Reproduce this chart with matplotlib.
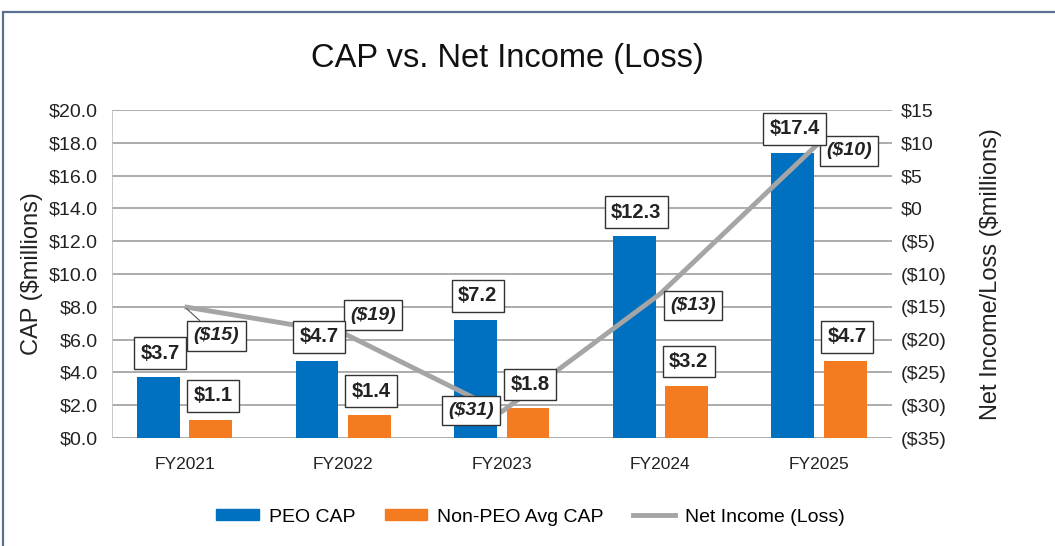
import matplotlib.pyplot as plt
from matplotlib.patches import Rectangle, Patch
from matplotlib.lines import Line2D
import numpy as np

years = ["FY2021", "FY2022", "FY2023", "FY2024", "FY2025"]
peo_cap = [3.7, 4.7, 7.2, 12.3, 17.4]
non_peo_cap = [1.1, 1.4, 1.8, 3.2, 4.7]
net_income = [-15, -19, -31, -13, 10]

cap_ticks = np.arange(0, 20.1, 2)
ni_ticks = np.arange(-35, 15.1, 5)

blue = "#0070C0"
orange = "#F47B20"
gray = "#A5A5A5"
narrow = ["Liberation Sans Narrow", "Liberation Sans", "DejaVu Sans"]

plt.rcParams["font.family"] = ["Liberation Sans", "DejaVu Sans"]

fig = plt.figure(figsize=(10.55, 5.46), dpi=100)
ax = fig.add_axes([0.1062, 0.1978, 0.7393, 0.6007])
ax2 = ax.twinx()

x = np.arange(len(years))
w = 0.27
ax.bar(x - 0.165, peo_cap, w, color=blue, zorder=2)
ax.bar(x + 0.165, non_peo_cap, w, color=orange, zorder=2)
ax2.plot(x, net_income, color=gray, lw=3.5, solid_capstyle="butt", zorder=3)

ax.set_xlim(-0.457, 4.46)
ax.set_ylim(0, 20)
ax2.set_ylim(-35, 15)
ax.set_yticks(cap_ticks)
ax.set_yticklabels([f"${v:.1f}" for v in cap_ticks])
ax2.set_yticks(ni_ticks)
ax2.set_yticklabels([f"${v:.0f}" if v >= 0 else f"(${-v:.0f})" for v in ni_ticks])
ax.set_xticks(x)
ax.set_xticklabels(years)

ax.grid(axis="y", color="#A6A6A6", lw=1.3, zorder=0)
ax.set_axisbelow(True)
for a in (ax, ax2):
    for s in ("top", "right", "bottom", "left"):
        a.spines[s].set_visible(False)
ax.axvline(-0.457, color="#BFBFBF", lw=1.2, zorder=1)

ax.tick_params(axis="y", length=0, pad=10, labelsize=14, labelcolor="#222222")
ax2.tick_params(axis="y", length=0, pad=6, labelsize=14, labelcolor="#222222")
ax.tick_params(axis="x", length=0, pad=14, labelsize=12.5, labelcolor="#222222")

ax.set_ylabel("CAP ($millions)", fontsize=17, color="#222222", labelpad=4)
ax2.set_ylabel("Net Income/Loss ($millions)", fontsize=17, color="#222222", labelpad=24)

box = dict(boxstyle="square,pad=0.32", fc="white", ec="#333333", lw=1)

# bar value labels (drawn on ax2 so they sit over the line)
for xs, vals in ((x - 0.165, peo_cap), (x + 0.165, non_peo_cap)):
    for xi, v in zip(xs, vals):
        ax2.annotate(f"${v:.1f}", xy=(xi, v), xycoords=ax.transData,
                     xytext=(2, 24), textcoords="offset pixels",
                     ha="center", va="center", fontsize=14.5, fontweight="bold",
                     color="#222222", bbox=box, zorder=6)

# net income labels, all shown in parentheses like the source
ni_offsets = [(32, -29), (30, 18), (-31, 1), (33, -12), (30, -8)]
for i, (xi, v) in enumerate(zip(x, net_income)):
    arrow = dict(arrowstyle="-", color="#555555", lw=0.8, shrinkA=0, shrinkB=2) if i < 2 else None
    ax2.annotate(f"(${abs(v)})", xy=(xi, v), xytext=ni_offsets[i],
                 textcoords="offset pixels", ha="center", va="center",
                 fontsize=14, fontweight="bold", fontstyle="italic",
                 color="#222222", bbox=box, arrowprops=arrow, zorder=5)

fig.text(0.4806, 0.892, "CAP vs. Net Income (Loss)", ha="center", va="center",
         fontsize=23.5, family=narrow, color="#111111")

handles = [Patch(color=blue), Patch(color=orange), Line2D([], [], color=gray, lw=3.5)]
fig.legend(handles, ["PEO CAP", "Non-PEO Avg CAP", "Net Income (Loss)"],
           loc="center", bbox_to_anchor=(0.503, 0.053), ncol=3, frameon=False,
           prop={"family": narrow, "size": 14}, handlelength=2.2, handleheight=0.5,
           handletextpad=0.5, columnspacing=1.5)

fig.add_artist(Rectangle((3 / 1055, -0.1), 1.2, 1.1 - 12 / 546, transform=fig.transFigure,
                         fill=False, ec="#5B7092", lw=1.6, clip_on=False))

fig.savefig("out.png", dpi=100)
